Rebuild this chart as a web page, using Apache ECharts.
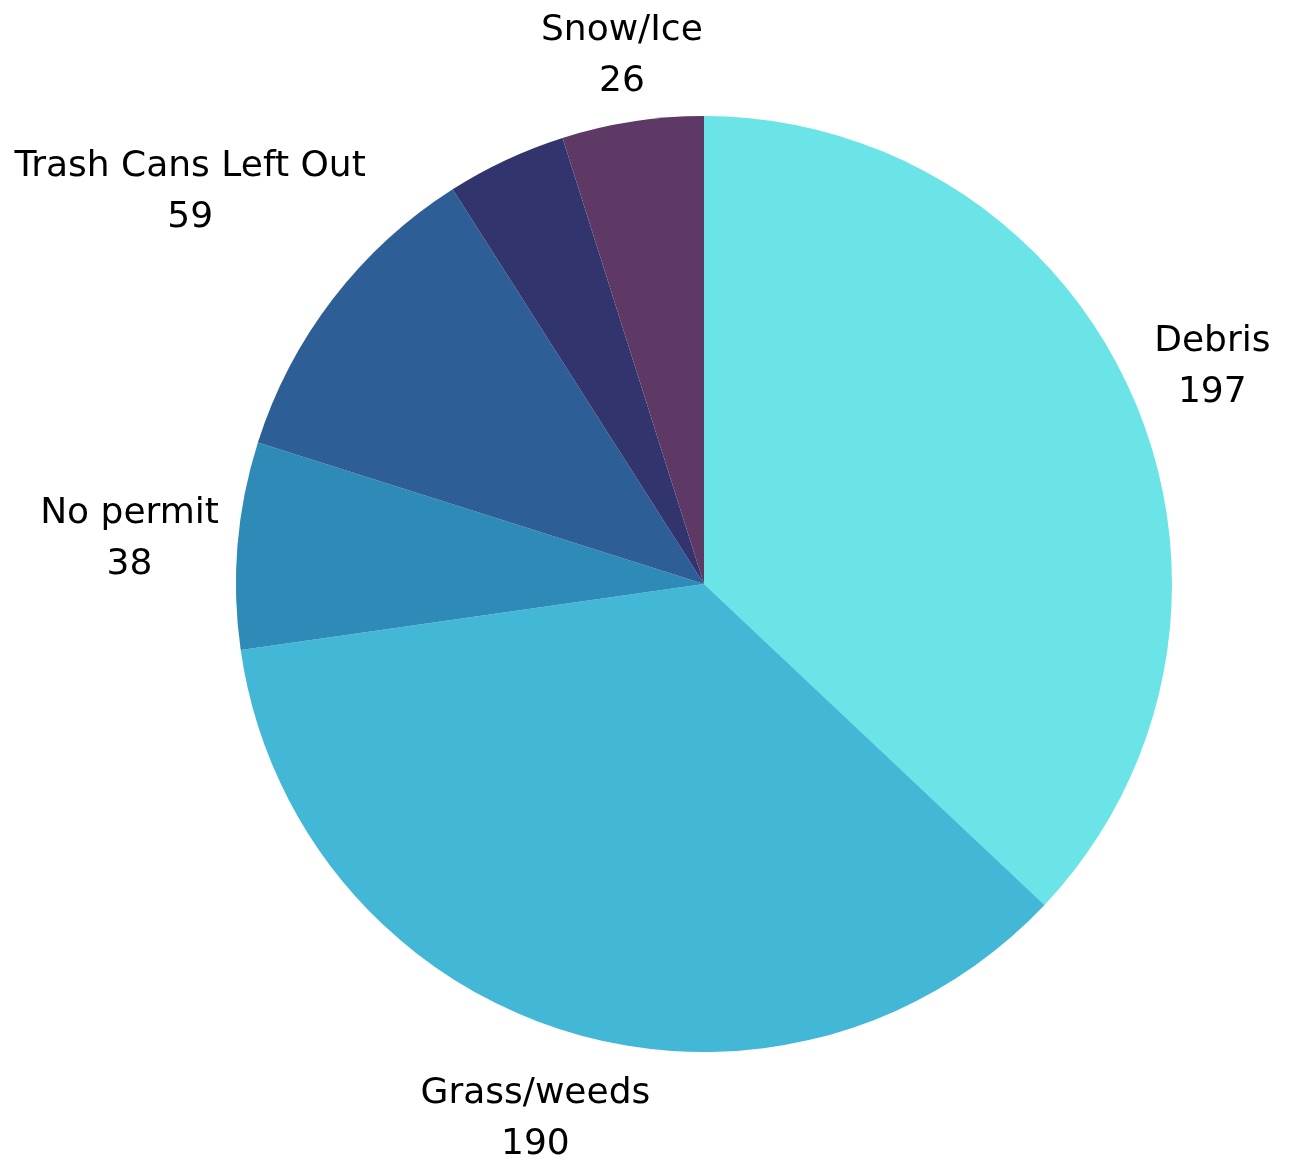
<!DOCTYPE html>
<html>
<head>
<meta charset="utf-8">
<script src="https://cdn.jsdelivr.net/npm/echarts@6/dist/echarts.min.js"></script>
<style>
  html, body { margin: 0; padding: 0; background: #ffffff; }
  #chart { width: 1292px; height: 1166px; }
</style>
</head>
<body>
<div id="chart"></div>
<script>
// Complaint categories and counts
const categories = ['Debris', 'Grass/weeds', 'No permit', 'Trash Cans Left Out', 'Other', 'Snow/Ice'];
const counts = [197, 190, 38, 59, 22, 26];
const sliceColors = ['#6ae4e7', '#42b7d6', '#2e8bb8', '#2e5e96', '#31346d', '#5e3966'];
const hiddenLabels = ['Other'];

const CENTER = [704, 584];
const RADIUS = 468;
const LABEL_GAP = 16;

const total = counts.reduce((s, v) => s + v, 0);

// Mid angle of each slice, clockwise from 12 o'clock (radians)
const midAngles = [];
let acc = 0;
counts.forEach(v => {
  midAngles.push(((acc + v / 2) / total) * Math.PI * 2);
  acc += v;
});

const chart = echarts.init(document.getElementById('chart'), null, { renderer: 'canvas' });

chart.setOption({
  animation: false,
  backgroundColor: '#ffffff',
  series: [{
    type: 'pie',
    center: CENTER,
    radius: RADIUS,
    startAngle: 90,
    clockwise: true,
    avoidLabelOverlap: false,
    itemStyle: { borderWidth: 0 },
    label: {
      show: true,
      position: 'outside',
      formatter: '{b}\n{c}',
      fontFamily: 'DejaVu Sans',
      fontSize: 36,
      lineHeight: 51,
      color: '#000000'
    },
    labelLine: { show: false },
    emphasis: { disabled: true },
    // Centre each two-line label on its slice's bisector, just clear of the rim
    labelLayout: function (params) {
      const th = midAngles[params.dataIndex];
      const ux = Math.sin(th), uy = -Math.cos(th);
      const a = params.labelRect.width / 2, b = params.labelRect.height / 2 - 10;
      const t = RADIUS + LABEL_GAP + a * Math.abs(ux) + b * Math.abs(uy);
      return {
        x: CENTER[0] + t * ux,
        y: CENTER[1] + t * uy + 3,
        align: 'center',
        verticalAlign: 'middle'
      };
    },
    data: categories.map((name, i) => ({
      name: name,
      value: counts[i],
      itemStyle: { color: sliceColors[i] },
      label: { show: hiddenLabels.indexOf(name) < 0 }
    }))
  }]
});
</script>
</body>
</html>
